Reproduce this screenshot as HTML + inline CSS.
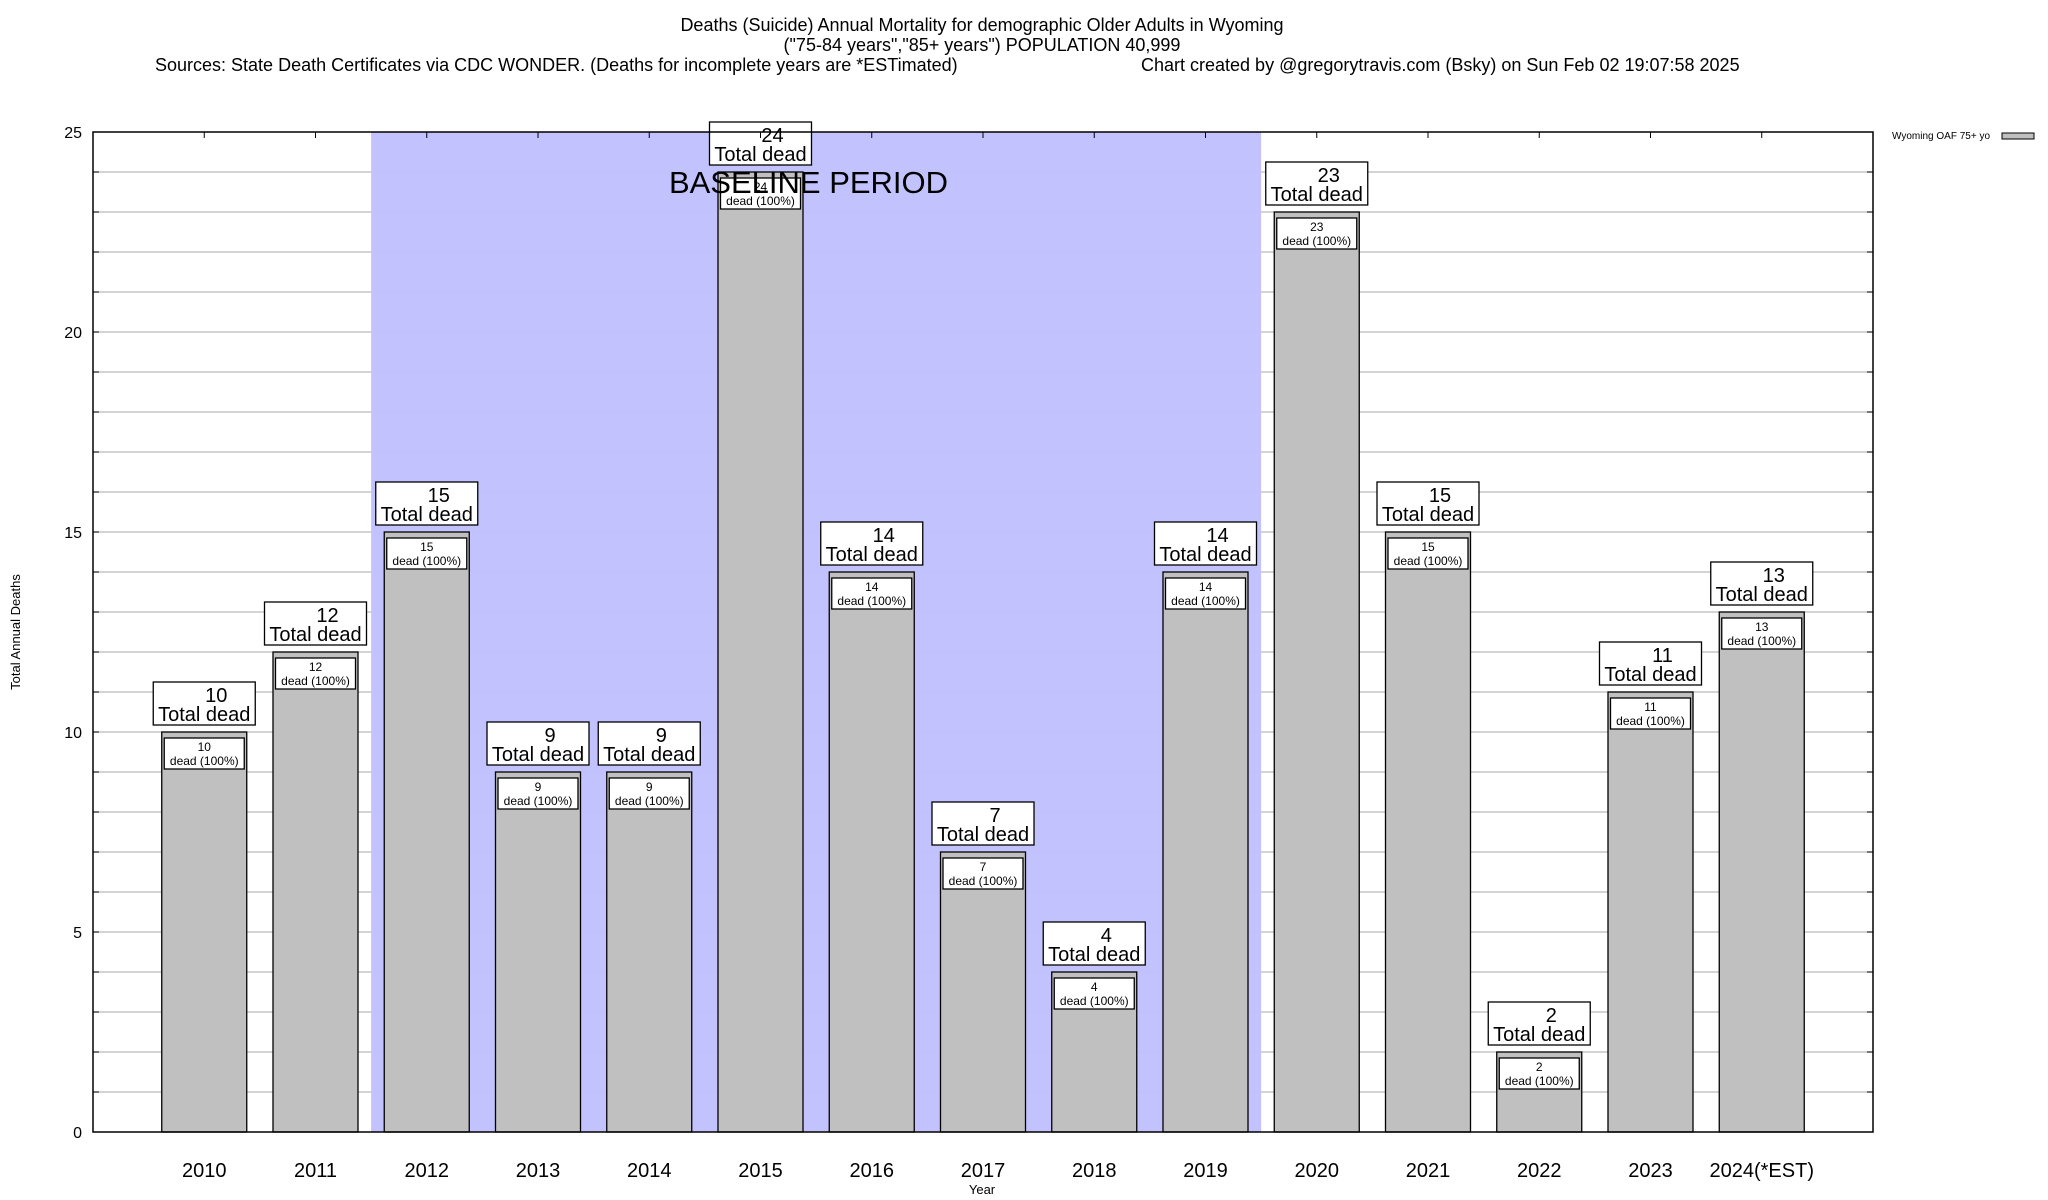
<!DOCTYPE html>
<html><head><meta charset="utf-8"><style>
body{margin:0;background:#fff;}
svg{display:block;font-family:"Liberation Sans",Arial,sans-serif;}
</style></head><body>
<svg id="chart" width="2048" height="1200" viewBox="0 0 2048 1200">
<g font-size="18" fill="#000">
<text x="982" y="31" text-anchor="middle">Deaths (Suicide) Annual Mortality for demographic Older Adults in Wyoming</text>
<text x="982" y="51" text-anchor="middle">("75-84 years","85+ years") POPULATION 40,999</text>
<text x="155" y="71">Sources: State Death Certificates via CDC WONDER. (Deaths for incomplete years are *ESTimated)</text>
<text x="1141" y="71">Chart created by @gregorytravis.com (Bsky) on Sun Feb 02 19:07:58 2025</text>
</g>
<g id="plot"></g>
<g>
<text x="1892" y="139" font-size="10">Wyoming OAF 75+ yo</text>
<rect x="2002" y="133" width="32" height="6" fill="#c0c0c0" stroke="#000" stroke-width="1"/>
</g>
<text x="982" y="1194" font-size="13" text-anchor="middle">Year</text>
<text transform="translate(20,632) rotate(-90)" font-size="13" text-anchor="middle">Total Annual Deaths</text>
</svg>
<script>
const categories = ["2010","2011","2012","2013","2014","2015","2016","2017","2018","2019","2020","2021","2022","2023","2024(*EST)"];
const deaths = [10,12,15,9,9,24,14,7,4,14,23,15,2,11,13];
const yTicks = [0,5,10,15,20,25];
const baselineStart = 2, baselineEnd = 9;

const NS = "http://www.w3.org/2000/svg";
const L = 93, R = 1873, T = 132, B = 1132;
const slot = (R - L) / (categories.length + 1);
const yMax = 25;
const xc = i => L + (i + 1) * slot;
const y = v => B - v / yMax * (B - T);
const barW = 85;
const g = document.getElementById('plot');
function mk(tag, attrs, parent) {
  const e = document.createElementNS(NS, tag);
  for (const k in attrs) e.setAttribute(k, attrs[k]);
  (parent || g).appendChild(e);
  return e;
}
// grid
for (let v = 1; v < yMax; v++) {
  const ln = mk('line', {x1: L, x2: R, y1: y(v), y2: y(v), stroke: '#bbb', 'stroke-width': 1.3});
  
  
}
// baseline shading
const sh = mk('rect', {x: xc(baselineStart) - slot / 2, y: T, width: (baselineEnd - baselineStart + 1) * slot, height: B - T, fill: '#c0c0ff', 'fill-opacity': 0.97});


// y ticks
yTicks.forEach(v => {
  const t = mk('text', {x: 82, y: y(v) + 6, 'font-size': 16, 'text-anchor': 'end'});
  t.textContent = v;
  
  
});
for (let v = 0; v <= yMax; v++) {
  mk('line', {x1: L, x2: L + 6, y1: y(v), y2: y(v), stroke: '#000', 'stroke-width': 1});
  mk('line', {x1: R, x2: R - 6, y1: y(v), y2: y(v), stroke: '#000', 'stroke-width': 1});
}
// bars
categories.forEach((c, i) => {
  const cx = xc(i), v = deaths[i], top = y(v);
  const bar = mk('rect', {x: cx - barW / 2, y: top, width: barW, height: B - top, fill: '#c0c0c0', stroke: '#000', 'stroke-width': 1.3});
  
  
  const ib = mk('rect', {x: cx - 40, y: top + 6, width: 80, height: 31, fill: '#fff', stroke: '#000', 'stroke-width': 1.3});
  
  
  const t1 = mk('text', {x: cx, y: top + 19, 'font-size': 12, 'text-anchor': 'middle'});
  t1.textContent = v;
  
  
  const t2 = mk('text', {x: cx, y: top + 33, 'font-size': 12, 'text-anchor': 'middle'});
  t2.textContent = 'dead (100%)';
  
  
  const ob = mk('rect', {x: cx - 51, y: top - 50, width: 102, height: 43, fill: '#fff', stroke: '#000', 'stroke-width': 1.3});
  
  
  const t3 = mk('text', {x: cx + 12, y: top - 30, 'font-size': 20, 'text-anchor': 'middle'});
  t3.textContent = v;
  
  
  const t4 = mk('text', {x: cx, y: top - 11, 'font-size': 20, 'text-anchor': 'middle'});
  t4.textContent = 'Total dead';
  
  
  const xl = mk('text', {x: cx, y: B + 45, 'font-size': 20, 'text-anchor': 'middle'});
  xl.textContent = c;
  
  
  mk('line', {x1: cx, x2: cx, y1: T, y2: T + 6, stroke: '#000', 'stroke-width': 1});
});
const bt = mk('text', {x: xc(5) + 48, y: y(24.2) + 29, 'font-size': 31, 'text-anchor': 'middle'});
bt.textContent = 'BASELINE PERIOD';


const fr = mk('rect', {x: L, y: T, width: R - L, height: B - T, fill: 'none', stroke: '#000', 'stroke-width': 1.5});


</script>
</body></html>
